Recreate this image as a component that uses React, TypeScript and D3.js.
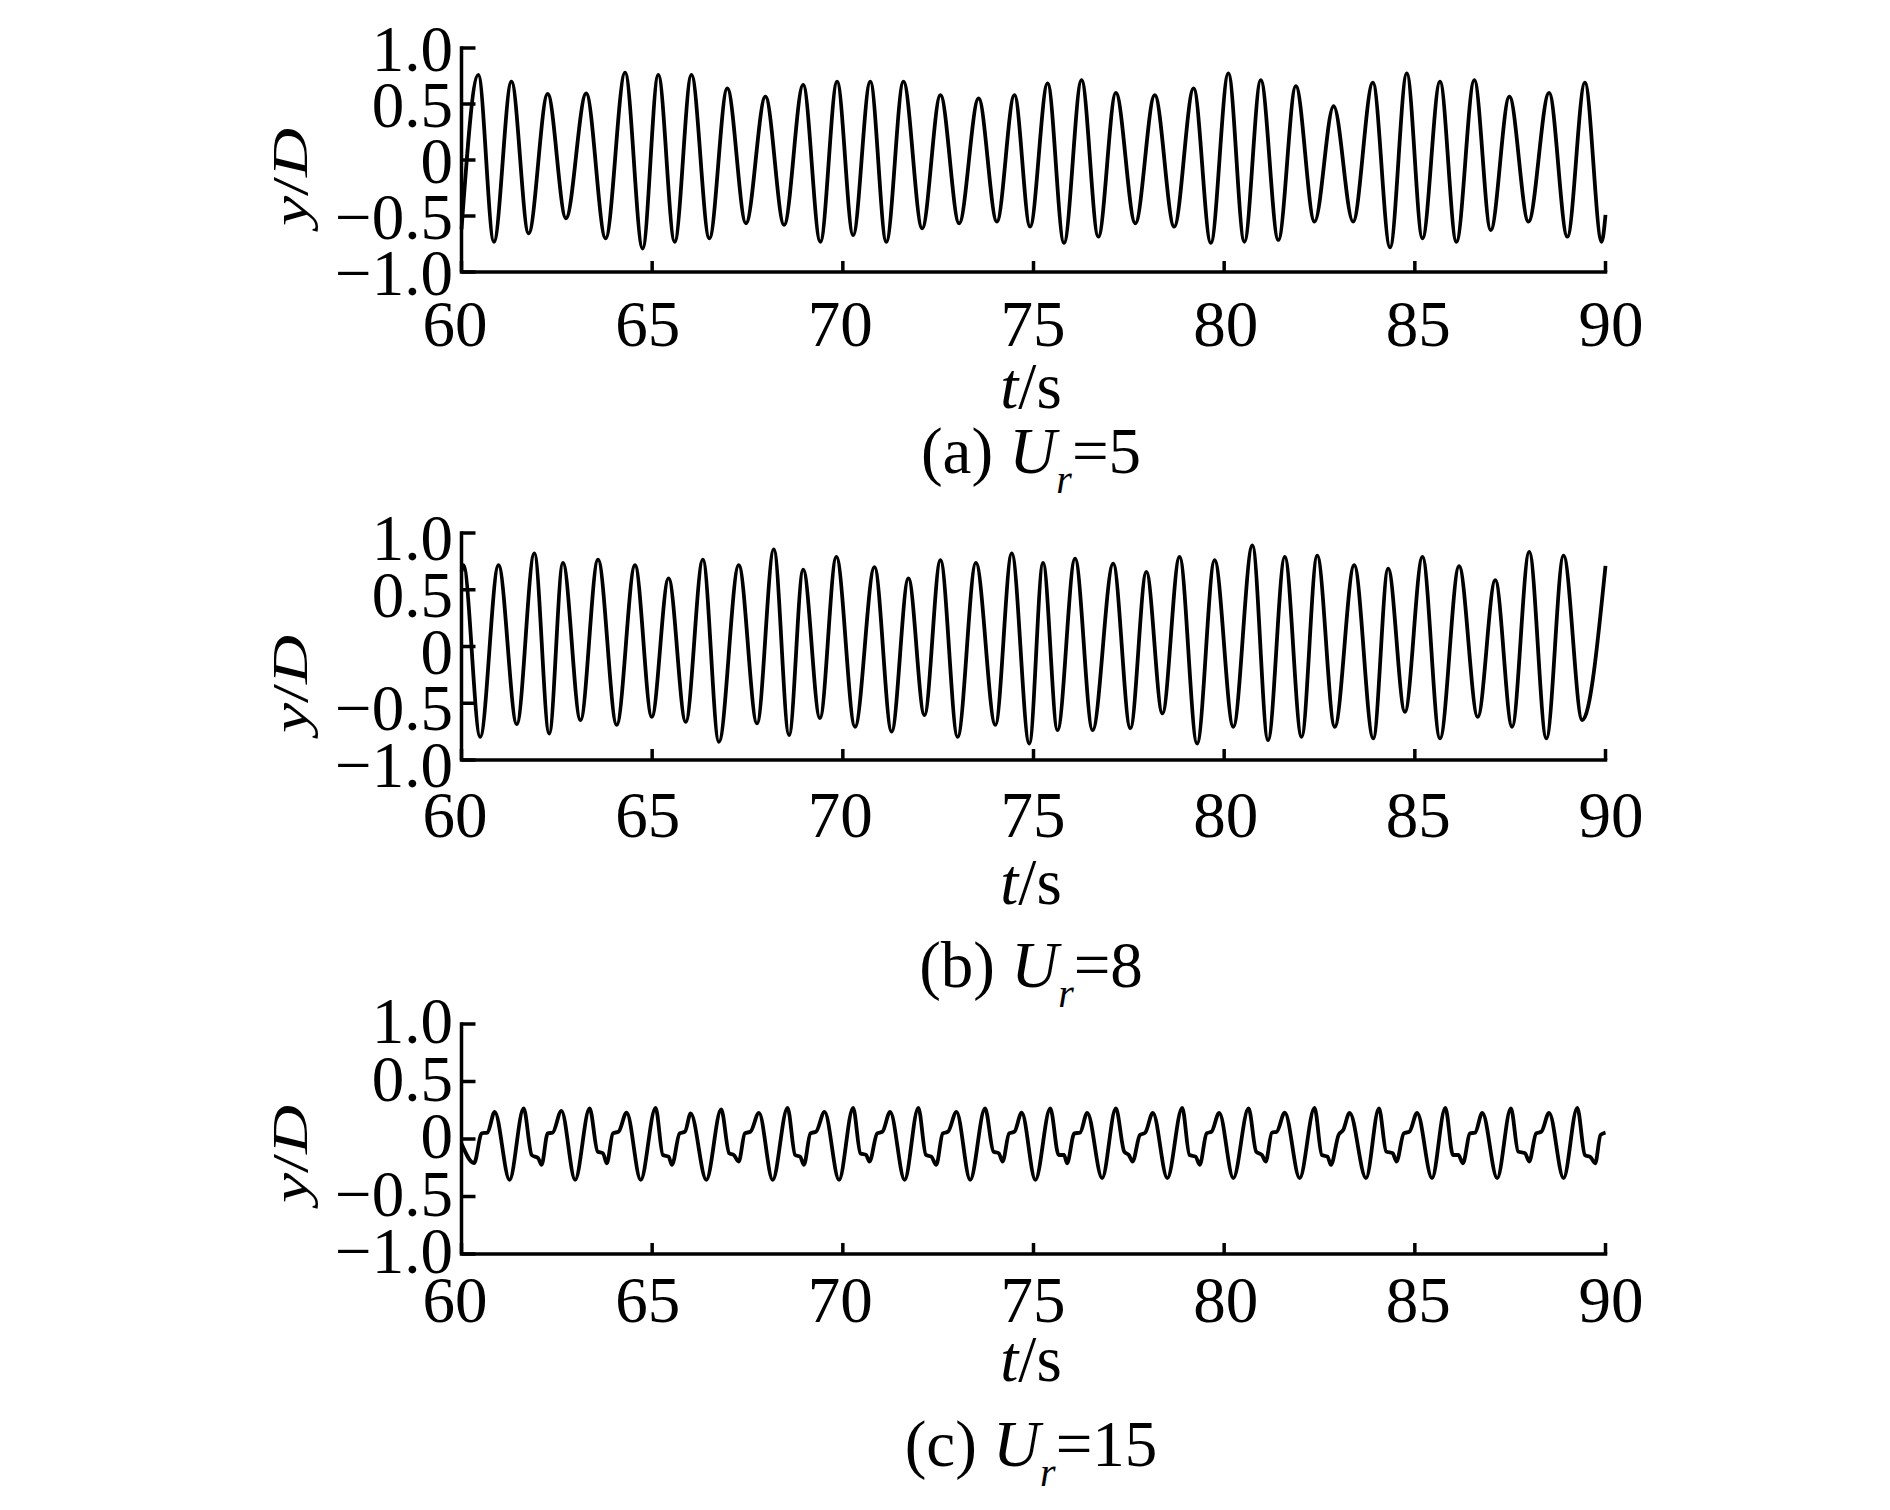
import React from 'react';
import * as d3 from 'd3';

const xTicks = [60, 65, 70, 75, 80, 85, 90];
const xTickLabels = ['60', '65', '70', '75', '80', '85', '90'];
const yTicks = [-1, -0.5, 0, 0.5, 1];
const yTickLabels = ['\u22121.0', '\u22120.5', '0', '0.5', '1.0'];

// (a) Ur = 5 : peaks and troughs [t (s), y/D]
const seriesA: [number, number][] = [
  [60.0, -0.62], [60.44, 0.76], [60.85, -0.73], [61.31, 0.7], [61.76, -0.655], [62.26, 0.59],
  [62.74, -0.52], [63.27, 0.595], [63.78, -0.7], [64.29, 0.78], [64.75, -0.79], [65.16, 0.76],
  [65.59, -0.73], [66.03, 0.76], [66.5, -0.7], [66.97, 0.64], [67.46, -0.565], [67.97, 0.565],
  [68.46, -0.58], [68.96, 0.67], [69.41, -0.73], [69.85, 0.7], [70.27, -0.67], [70.72, 0.7],
  [71.14, -0.73], [71.59, 0.7], [72.08, -0.61], [72.56, 0.58], [73.05, -0.565], [73.56, 0.55],
  [74.04, -0.55], [74.5, 0.58], [74.91, -0.595], [75.37, 0.685], [75.8, -0.74], [76.26, 0.714],
  [76.7, -0.685], [77.16, 0.6], [77.67, -0.565], [78.18, 0.58], [78.69, -0.595], [79.2, 0.64],
  [79.65, -0.74], [80.11, 0.774], [80.53, -0.73], [80.96, 0.714], [81.42, -0.714], [81.88, 0.66],
  [82.37, -0.55], [82.87, 0.48], [83.38, -0.55], [83.9, 0.69], [84.35, -0.78], [84.79, 0.774],
  [85.2, -0.7], [85.66, 0.7], [86.09, -0.73], [86.56, 0.714], [86.99, -0.625], [87.48, 0.565],
  [87.98, -0.55], [88.52, 0.6], [89.0, -0.685], [89.46, 0.69], [89.9, -0.73], [90.0, -0.49],
];

// (b) Ur = 8
const seriesB: [number, number][] = [
  [60.0, 0.66], [60.05, 0.716], [60.49, -0.796], [60.97, 0.716], [61.45, -0.684], [61.91, 0.82],
  [62.3, -0.767], [62.66, 0.737], [63.12, -0.649], [63.58, 0.766], [64.07, -0.69], [64.55, 0.716],
  [64.99, -0.62], [65.43, 0.6], [65.88, -0.664], [66.33, 0.766], [66.75, -0.84], [67.27, 0.716],
  [67.75, -0.678], [68.19, 0.855], [68.59, -0.78], [68.96, 0.678], [69.4, -0.63], [69.83, 0.79],
  [70.32, -0.707], [70.83, 0.7], [71.28, -0.75], [71.72, 0.6], [72.14, -0.605], [72.56, 0.76],
  [73.01, -0.796], [73.49, 0.737], [74.0, -0.69], [74.43, 0.82], [74.89, -0.855], [75.25, 0.737],
  [75.63, -0.737], [76.09, 0.775], [76.55, -0.737], [77.09, 0.73], [77.54, -0.72], [77.96, 0.658],
  [78.38, -0.59], [78.83, 0.79], [79.29, -0.855], [79.75, 0.76], [80.24, -0.707], [80.74, 0.89],
  [81.15, -0.825], [81.59, 0.79], [82.03, -0.796], [82.44, 0.8], [82.9, -0.707], [83.41, 0.716],
  [83.91, -0.81], [84.3, 0.687], [84.74, -0.575], [85.2, 0.79], [85.66, -0.81], [86.16, 0.707],
  [86.65, -0.62], [87.11, 0.584], [87.55, -0.707], [88.0, 0.834], [88.45, -0.81], [88.9, 0.8],
  [89.39, -0.649], [90.0, 0.71],
];

// (c) Ur = 15
const seriesC: [number, number][] = [
  [60.0, -0.04], [60.33, -0.21], [60.53, 0.05], [60.68, 0.055], [60.87, 0.236],
  [61.26, -0.355], [61.63, 0.266], [61.84, -0.139], [62.01, -0.167], [62.1, -0.225], [62.26, 0.049], [62.39, 0.055], [62.62, 0.245],
  [62.98, -0.355], [63.36, 0.266], [63.57, -0.11], [63.71, -0.124], [63.81, -0.211], [63.97, 0.049], [64.12, 0.064], [64.33, 0.23],
  [64.7, -0.355], [65.09, 0.271], [65.28, -0.139], [65.43, -0.153], [65.52, -0.225], [65.72, 0.049], [65.86, 0.064], [66.01, 0.222],
  [66.42, -0.355], [66.81, 0.257], [67.02, -0.124], [67.14, -0.139], [67.27, -0.196], [67.43, 0.049], [67.58, 0.064], [67.8, 0.228],
  [68.16, -0.355], [68.55, 0.271], [68.75, -0.139], [68.88, -0.153], [68.98, -0.225], [69.15, 0.049], [69.3, 0.064], [69.52, 0.236],
  [69.9, -0.355], [70.27, 0.271], [70.46, -0.124], [70.61, -0.139], [70.7, -0.196], [70.9, 0.049], [71.04, 0.064], [71.24, 0.236],
  [71.62, -0.355], [71.98, 0.271], [72.18, -0.139], [72.32, -0.153], [72.45, -0.225], [72.62, 0.049], [72.76, 0.064], [72.98, 0.236],
  [73.34, -0.355], [73.73, 0.266], [73.95, -0.11], [74.09, -0.124], [74.19, -0.196], [74.36, 0.049], [74.5, 0.064], [74.69, 0.23],
  [75.05, -0.355], [75.44, 0.266], [75.66, -0.139], [75.8, -0.139], [75.88, -0.211], [76.07, 0.049], [76.22, 0.055], [76.41, 0.228],
  [76.8, -0.34], [77.16, 0.266], [77.38, -0.11], [77.5, -0.139], [77.6, -0.196], [77.79, 0.035], [77.93, 0.055], [78.13, 0.228],
  [78.51, -0.34], [78.9, 0.271], [79.09, -0.139], [79.25, -0.153], [79.36, -0.225], [79.54, 0.049], [79.67, 0.064], [79.87, 0.228],
  [80.24, -0.34], [80.64, 0.266], [80.84, -0.11], [80.99, -0.139], [81.09, -0.196], [81.25, 0.055], [81.38, 0.064], [81.59, 0.23],
  [81.98, -0.34], [82.37, 0.271], [82.56, -0.139], [82.71, -0.153], [82.8, -0.225], [83.0, 0.035], [83.12, 0.078], [83.29, 0.228],
  [83.72, -0.34], [84.06, 0.266], [84.25, -0.11], [84.42, -0.124], [84.52, -0.196], [84.71, 0.049], [84.86, 0.064], [85.06, 0.228],
  [85.45, -0.34], [85.8, 0.271], [86.0, -0.139], [86.14, -0.139], [86.26, -0.211], [86.45, 0.049], [86.58, 0.055], [86.77, 0.228],
  [87.16, -0.34], [87.52, 0.266], [87.71, -0.11], [87.89, -0.124], [88.0, -0.196], [88.18, 0.049], [88.32, 0.064], [88.52, 0.228],
  [88.9, -0.34], [89.26, 0.271], [89.46, -0.139], [89.61, -0.159], [89.73, -0.211], [89.87, 0.035], [90.0, 0.055],
];

const captionLetters = ['a', 'b', 'c'];
const captionValues = ['5', '8', '15'];

const FONT = '"Liberation Serif", "Times New Roman", Times, serif';
const X0 = 461.5;
const X1 = 1605.5;

type PanelProps = {
  data: [number, number][];
  top: number;
  bottom: number;
  yLabDy: number;
  xLabY: number;
  tLabY: number;
  capY: number;
  yTitleY: number;
  letter: string;
  value: string;
};

function Panel(p: PanelProps) {
  const x = d3.scaleLinear().domain([60, 90]).range([X0, X1]);
  const xl = d3.scaleLinear().domain([60, 90]).range([455, 1611]);
  const y = d3.scaleLinear().domain([-1, 1]).range([p.bottom, p.top]);
  const line = d3
    .line<[number, number]>()
    .x((d) => x(d[0]))
    .y((d) => y(d[1]))
    .curve(d3.curveMonotoneX);
  const fs = 65;
  return (
    <g fontFamily={FONT} fill="#000">
      <path d={line(p.data) || ''} fill="none" stroke="#000" strokeWidth={3.8} strokeLinejoin="round" />
      <path
        d={`M${X0},${p.top}V${p.bottom}H${X1}`}
        fill="none"
        stroke="#000"
        strokeWidth={3.5}
        strokeLinecap="square"
      />
      {yTicks.map((v) => (
        <line key={'yt' + v} x1={X0} x2={X0 + 14} y1={y(v)} y2={y(v)} stroke="#000" strokeWidth={3.5} />
      ))}
      {xTicks.map((t) => (
        <line key={'xt' + t} x1={x(t)} x2={x(t)} y1={p.bottom} y2={p.bottom - 11} stroke="#000" strokeWidth={3.5} />
      ))}
      {yTicks.map((v, i) => (
        <text key={'yl' + v} x={453} y={y(v) + p.yLabDy} textAnchor="end" fontSize={fs}>
          {yTickLabels[i]}
        </text>
      ))}
      {xTicks.map((t, i) => (
        <text key={'xl' + t} x={xl(t)} y={p.xLabY} textAnchor="middle" fontSize={fs}>
          {xTickLabels[i]}
        </text>
      ))}
      <text x={1031} y={p.tLabY} textAnchor="middle" fontSize={fs}>
        <tspan fontStyle="italic">t</tspan>
        <tspan>/s</tspan>
      </text>
      <text
        transform={`translate(307,${p.yTitleY}) rotate(-90) scale(1,0.76)`}
        textAnchor="middle"
        fontSize={68}
      >
        <tspan fontStyle="italic">y</tspan>
        <tspan>/</tspan>
        <tspan fontStyle="italic">D</tspan>
      </text>
      <text x={1031} y={p.capY} textAnchor="middle" fontSize={fs}>
        <tspan>{`(${p.letter}) `}</tspan>
        <tspan fontStyle="italic">U</tspan>
        <tspan fontStyle="italic" fontSize={40} dy={20}>r</tspan>
        <tspan dy={-20}>{`=${p.value}`}</tspan>
      </text>
    </g>
  );
}

export default function App() {
  const panels = [
    { data: seriesA, top: 48, bottom: 272, yLabDy: 23, xLabY: 346, tLabY: 408, capY: 473, yTitleY: 177 },
    { data: seriesB, top: 533, bottom: 760, yLabDy: 27, xLabY: 837, tLabY: 904, capY: 987, yTitleY: 684 },
    { data: seriesC, top: 1024, bottom: 1254, yLabDy: 19, xLabY: 1322, tLabY: 1381, capY: 1466, yTitleY: 1154 },
  ];
  return (
    <svg
      width={1890}
      height={1510}
      viewBox="0 0 1890 1510"
      style={{ position: 'absolute', left: 0, top: 0, background: '#fff' }}
    >
      <rect width={1890} height={1510} fill="#fff" />
      {panels.map((pp, i) => (
        <Panel key={i} {...pp} letter={captionLetters[i]} value={captionValues[i]} />
      ))}
    </svg>
  );
}
